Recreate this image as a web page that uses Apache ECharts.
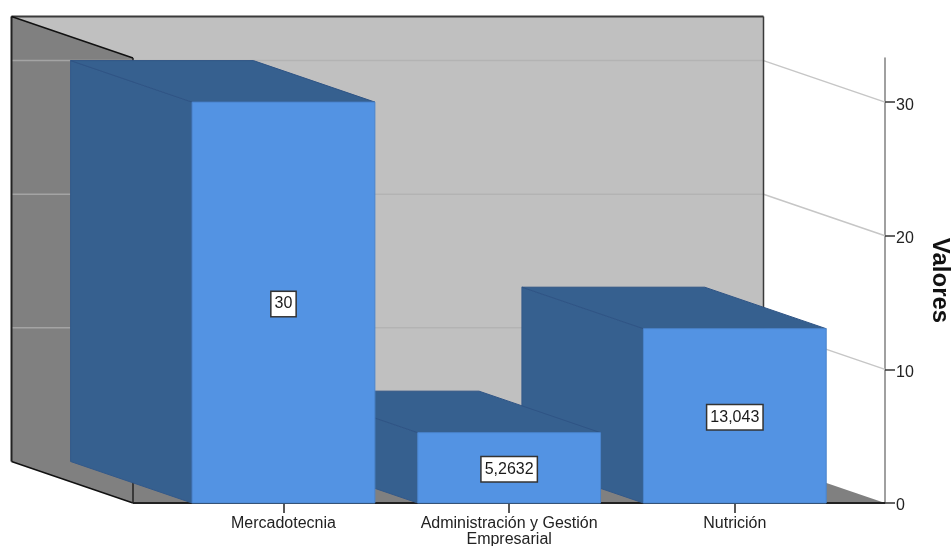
<!DOCTYPE html>
<html>
<head>
<meta charset="utf-8">
<style>html,body{margin:0;padding:0;background:#fff}#c{width:952px;height:546px}</style>
<script src="https://cdn.jsdelivr.net/npm/echarts@6/dist/echarts.min.js"></script>
</head>
<body>
<div id="c"></div>
<script>
const categories = ['Mercadotecnia', 'Administración y Gestión\nEmpresarial', 'Nutrición'];
const values = [30, 5.2632, 13.043];
const valueTicks = [0, 10, 20, 30];
const gridTicks = [10, 20, 30];
const axisName = 'Valores';

const FONT = '"Liberation Sans", Arial, sans-serif';
const DX = 121.5, DY = 41.5;          // depth of the 3D box
const SIDE_L = 37.65, SIDE_R = 37.35; // floor beyond the category bands
const TOP_PAD = 0;
const BAR_RATIO = 0.81;
const WALL_BACK = '#c0c0c0', WALL_SIDE = '#808080';
const FRONT = '#5393e3', DARK = '#36608f';

const chart = echarts.init(document.getElementById('c'), null, {renderer: 'canvas'});

function poly(points, fill, stroke, z2) {
  return {type: 'polygon', shape: {points}, z2: z2 || 0, silent: true,
    style: {fill, stroke: stroke || null, lineWidth: stroke ? 1 : 0}};
}
function seg(x1, y1, x2, y2, stroke, w, z2) {
  return {type: 'line', shape: {x1, y1, x2, y2}, z2: z2 || 1, silent: true,
    style: {stroke, lineWidth: w || 1, fill: null}};
}

function renderWalls(params, api) {
  const cs = params.coordSys;
  const l = cs.x - SIDE_L, r = cs.x + cs.width + SIDE_R;
  const b = cs.y + cs.height, t = cs.y - TOP_PAD;
  const lb = l - DX, rb = r - DX, tb = t - DY, bb = b - DY;
  const kids = [
    poly([[lb, tb], [rb, tb], [rb, bb], [lb, bb]], WALL_BACK),
    poly([[lb, tb], [l, t], [l, b], [lb, bb]], WALL_SIDE),
    poly([[lb, bb], [rb, bb], [r, b], [l, b]], WALL_SIDE)
  ];
  gridTicks.forEach(function (v) {
    const y = api.coord([0, v])[1];
    kids.push(seg(lb, y - DY, l, y - DY, '#a4a4a4', 1.5, 1));
    kids.push(seg(l, y - DY, rb, y - DY, '#b3b3b3', 1.5, 1));
    kids.push(seg(rb, y - DY, r, y, '#c6c6c6', 1.5, 1));
  });
  kids.push(seg(lb, tb, rb, tb, '#3a3a3a', 2, 2));
  kids.push(seg(rb, tb, rb, bb, '#3a3a3a', 1.5, 2));
  kids.push(seg(lb, tb, lb, bb, '#222', 2, 2));
  kids.push(seg(lb, tb, l, t, '#111', 1.5, 2));
  kids.push(seg(lb, bb, l, b, '#111', 1.5, 2));
  kids.push(seg(l, t, l, b, '#222', 1.5, 2));
  kids.push(seg(l, b, r, b, '#222', 2, 2));
  return {type: 'group', children: kids};
}

function renderBar(params, api) {
  const idx = api.value(0), val = api.value(1);
  const base = api.coord([idx, 0]), top = api.coord([idx, val]);
  const w = api.size([1, 0])[0] * BAR_RATIO;
  const x0 = base[0] - w / 2, x1 = base[0] + w / 2;
  const y0 = base[1], y1 = top[1];
  const z = (categories.length - idx) * 10;
  const label = String(val).replace('.', ',');
  return {type: 'group', children: [
    poly([[x0 - DX, y1 - DY], [x0, y1], [x0, y0], [x0 - DX, y0 - DY]], DARK, '#33598a', z),
    poly([[x0 - DX, y1 - DY], [x1 - DX, y1 - DY], [x1, y1], [x0, y1]], DARK, '#2f5485', z + 1),
    poly([[x0, y1], [x1, y1], [x1, y0], [x0, y0]], FRONT, '#4a84cc', z + 2),
    {type: 'text', z2: 100, silent: true, x: base[0], y: (y0 + y1) / 2 + 1.5,
      style: {text: label, x: 0, y: 0, align: 'center', verticalAlign: 'middle',
        font: '16px ' + FONT, fill: '#1a1a1a', backgroundColor: '#fff',
        borderColor: '#333', borderWidth: 1.5, padding: [4, 3, 4, 3]}}
  ]};
}

chart.setOption({
  animation: false,
  backgroundColor: '#fff',
  tooltip: {show: false},
  grid: {left: 170.65, width: 677, top: 58, height: 445, containLabel: false, outerBoundsMode: 'none'},
  xAxis: {
    type: 'category', data: categories, boundaryGap: true,
    axisLine: {show: false},
    axisTick: {show: true, alignWithLabel: true, length: 10, lineStyle: {color: '#222', width: 1.5}},
    axisLabel: {show: true, interval: 0, margin: 13, color: '#222', fontFamily: FONT, fontSize: 16, lineHeight: 16},
    splitLine: {show: false}
  },
  yAxis: {
    type: 'value', min: 0, max: 33.3, interval: 10, position: 'right', offset: 37.35,
    name: axisName, nameLocation: 'middle', nameRotate: -90, nameGap: 43,
    nameTextStyle: {color: '#111', fontFamily: FONT, fontSize: 24, fontWeight: 'bold'},
    axisLine: {show: true, onZero: false, lineStyle: {color: '#808080', width: 1.5}},
    axisTick: {show: true, length: 10, customValues: valueTicks, lineStyle: {color: '#333', width: 1.5}},
    axisLabel: {show: true, margin: 11, customValues: valueTicks, color: '#222', fontFamily: FONT, fontSize: 16, verticalAlign: 'top', lineHeight: 6},
    splitLine: {show: false}
  },
  series: [
    {type: 'custom', silent: true, clip: false, z: 1, coordinateSystem: 'cartesian2d',
      renderItem: renderWalls, data: [[0, 0]]},
    {type: 'custom', silent: true, clip: false, z: 2, coordinateSystem: 'cartesian2d',
      renderItem: renderBar, encode: {x: 0, y: 1},
      data: values.map(function (v, i) { return [i, v]; })}
  ]
});
</script>
</body>
</html>
